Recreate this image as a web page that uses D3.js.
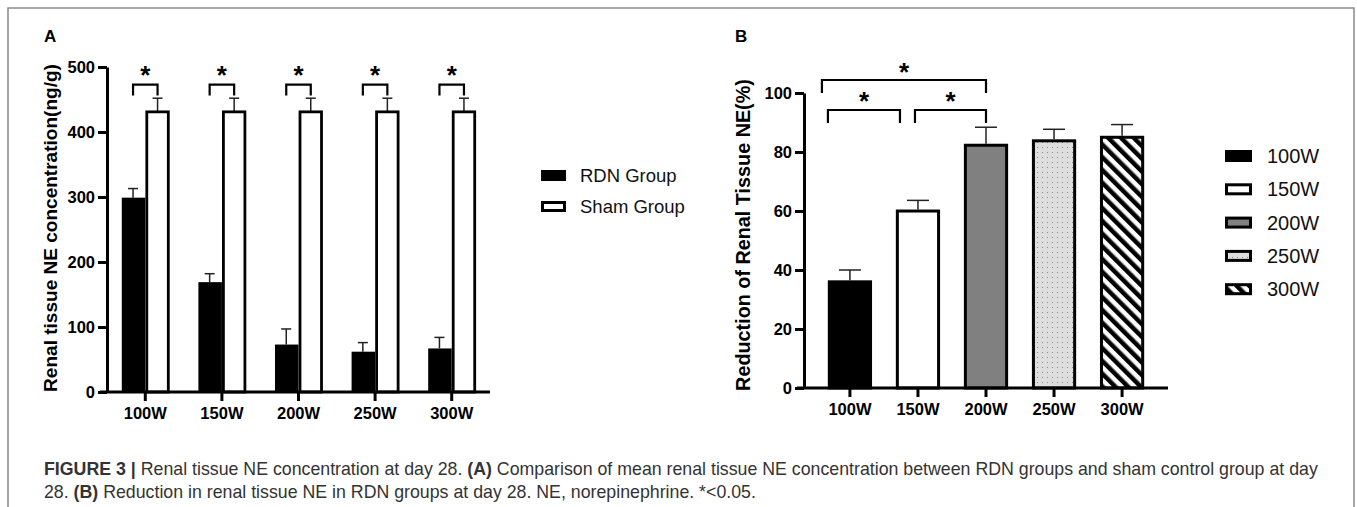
<!DOCTYPE html>
<html>
<head>
<meta charset="utf-8">
<script src="https://cdn.jsdelivr.net/npm/d3@7"></script>
<style>
  body { margin: 0; background: #fff; }
  text { font-family: "Liberation Sans", Arial, sans-serif; }
</style>
</head>
<body>
<div id="mainDiv"></div>
<script>
// data
var powers = ["100W", "150W", "200W", "250W", "300W"];
var groups = ["RDN Group", "Sham Group"];
var rdnMean = [299, 169, 73, 62, 67];
var rdnTop = [313, 182, 97, 76, 84];
var shamMean = [431, 431, 431, 431, 431];
var shamTop = [452, 452, 452, 452, 452];
var ticksA = [0, 100, 200, 300, 400, 500];

var reduction = [36.5, 60.5, 82.8, 84.3, 85.5];
var reductionTop = [40, 63.6, 88.4, 87.7, 89.3];
var ticksB = [0, 20, 40, 60, 80, 100];
var bracketsB = [["100W", "200W"], ["100W", "150W"], ["150W", "200W"]];

var captionLine1 = [["FIGURE 3 | ", true], ["Renal tissue NE concentration at day 28. ", false], ["(A)", true],
  [" Comparison of mean renal tissue NE concentration between RDN groups and sham control group at day", false]];
var captionLine2 = [["28. ", false], ["(B)", true], [" Reduction in renal tissue NE in RDN groups at day 28. NE, norepinephrine. *<0.05.", false]];

var mainDiv = d3.select("#mainDiv");
var mySvg = mainDiv.append("svg")
                   .attr("width", 1357)
                   .attr("height", 507);

// frame
mySvg.append("rect")
     .attr("x", 8).attr("y", 8)
     .attr("width", 1346).attr("height", 520)
     .attr("fill", "none")
     .attr("stroke", "#8a8a8a")
     .attr("stroke-width", 1.5);

var defs = mySvg.append("defs");
var dots = defs.append("pattern")
     .attr("id", "dots").attr("patternUnits", "userSpaceOnUse")
     .attr("width", 5).attr("height", 5);
dots.append("rect").attr("width", 5).attr("height", 5).attr("fill", "#dedede");
dots.append("rect").attr("x", 2).attr("y", 2).attr("width", 1).attr("height", 1).attr("fill", "#8c8c8c");

var stripes = defs.append("pattern")
     .attr("id", "stripes").attr("patternUnits", "userSpaceOnUse")
     .attr("width", 9).attr("height", 9)
     .attr("patternTransform", "rotate(-45)");
stripes.append("rect").attr("width", 9).attr("height", 9).attr("fill", "#fff");
stripes.append("rect").attr("width", 4.5).attr("height", 9).attr("fill", "#000");

var fillsB = ["#000", "#fff", "#808080", "url(#dots)", "url(#stripes)"];

// shrink/grow a text node's font so it spans a given width
function fitWidth(sel, w) {
    var fs = +sel.attr("font-size");
    sel.attr("font-size", fs * w / sel.node().getComputedTextLength());
}

// ---------- panel A ----------
var yA = d3.scaleLinear().domain([0, 500]).range([392, 67]);
var x0 = d3.scaleBand().domain(powers).range([107, 490]).paddingInner(0.36).paddingOuter(0.18);
var x1 = d3.scaleBand().domain(groups).range([0, x0.bandwidth()]);

var gA = mySvg.append("g");

powers.forEach(function(p, i) {
    var cx = x0(p);
    // error bars first so bars sit on top
    [[rdnMean[i], rdnTop[i], groups[0]], [shamMean[i], shamTop[i], groups[1]]].forEach(function(e) {
        var mx = cx + x1(e[2]) + x1.bandwidth() / 2;
        gA.append("line").attr("x1", mx).attr("x2", mx)
          .attr("y1", yA(e[0])).attr("y2", yA(e[1]))
          .attr("stroke", "#222").attr("stroke-width", 1.5);
        gA.append("line").attr("x1", mx - 5).attr("x2", mx + 5)
          .attr("y1", yA(e[1])).attr("y2", yA(e[1]))
          .attr("stroke", "#222").attr("stroke-width", 1.5);
    });
    gA.append("rect")
      .attr("x", cx + x1(groups[0]) + 1).attr("y", yA(rdnMean[i]))
      .attr("width", x1.bandwidth() - 1).attr("height", yA(0) - yA(rdnMean[i]))
      .attr("fill", "#000");
    gA.append("rect")
      .attr("x", cx + x1(groups[1]) + 1.5).attr("y", yA(shamMean[i]))
      .attr("width", x1.bandwidth() - 3).attr("height", yA(0) - yA(shamMean[i]))
      .attr("fill", "#fff").attr("stroke", "#000").attr("stroke-width", 2.8);

    // significance bracket
    var l = cx + x1(groups[0]) + x1.bandwidth() / 2;
    var r = cx + x1(groups[1]) + x1.bandwidth() / 2;
    gA.append("path")
      .attr("d", "M" + l + "," + yA(456) + "V" + yA(473) + "H" + r + "V" + yA(456))
      .attr("fill", "none").attr("stroke", "#000").attr("stroke-width", 2.2);
    gA.append("text").text("*")
      .attr("x", cx + x0.bandwidth() / 2).attr("y", 84)
      .attr("text-anchor", "middle")
      .attr("font-size", 26).attr("font-weight", "bold");
});

gA.append("g").attr("transform", "translate(107,0)")
   .call(d3.axisLeft(yA).tickValues(ticksA).tickSize(9).tickPadding(3).tickSizeOuter(0));
var xAxisA = gA.append("g").attr("transform", "translate(0," + yA(0) + ")")
   .call(d3.axisBottom(x0).tickSize(9).tickPadding(6).tickSizeOuter(0));
xAxisA.select(".domain").attr("d", "M100,0H490");

var titleA = gA.append("text")
  .text("Renal tissue NE concentration(ng/g)")
  .attr("transform", "translate(57,228) rotate(-90)")
  .attr("text-anchor", "middle")
  .attr("font-size", 17).attr("font-weight", "bold");
fitWidth(titleA, 328);

gA.append("text").text("A").attr("x", 44).attr("y", 42)
  .attr("font-size", 17).attr("font-weight", "bold");

// legend A
var legA = gA.append("g").attr("transform", "translate(541,170)");
groups.forEach(function(g, i) {
    legA.append("rect")
        .attr("x", 1.5).attr("y", i * 31 + 1.5)
        .attr("width", 22).attr("height", 8)
        .attr("fill", i == 0 ? "#000" : "#fff")
        .attr("stroke", "#000").attr("stroke-width", 3);
    legA.append("text").text(g)
        .attr("x", 39).attr("y", i * 31 + 12)
        .attr("font-size", 18.5).attr("fill", "#111");
});

// ---------- panel B ----------
var yB = d3.scaleLinear().domain([0, 100]).range([388, 93]);
var xB = d3.scaleBand().domain(powers).range([804, 1168]).paddingInner(0.35).paddingOuter(0.35);

var gB = mySvg.append("g");

powers.forEach(function(p, i) {
    var mx = xB(p) + xB.bandwidth() / 2;
    gB.append("line").attr("x1", mx).attr("x2", mx)
      .attr("y1", yB(reduction[i])).attr("y2", yB(reductionTop[i]))
      .attr("stroke", "#222").attr("stroke-width", 1.5);
    gB.append("line").attr("x1", mx - 11).attr("x2", mx + 11)
      .attr("y1", yB(reductionTop[i])).attr("y2", yB(reductionTop[i]))
      .attr("stroke", "#222").attr("stroke-width", 1.5);
    gB.append("rect")
      .attr("x", xB(p) + 1.5).attr("y", yB(reduction[i]) + 1.5)
      .attr("width", xB.bandwidth() - 3).attr("height", yB(0) - yB(reduction[i]) - 1.5)
      .attr("fill", fillsB[i])
      .attr("stroke", "#000").attr("stroke-width", 3);
});

// brackets B
function cB(p) { return xB(p) + xB.bandwidth() / 2; }
var bPos = [
    [cB(bracketsB[0][0]) - 28, cB(bracketsB[0][1]), 80, 93, 67],
    [cB(bracketsB[1][0]) - 22, cB(bracketsB[1][1]) - 18, 110, 123, 96],
    [cB(bracketsB[2][0]) - 3, cB(bracketsB[2][1]), 110, 123, 96]
];
bPos.forEach(function(b) {
    gB.append("path")
      .attr("d", "M" + b[0] + "," + b[3] + "V" + b[2] + "H" + b[1] + "V" + b[3])
      .attr("fill", "none").attr("stroke", "#000").attr("stroke-width", 2.2);
    gB.append("text").text("*")
      .attr("x", (b[0] + b[1]) / 2).attr("y", b[4] + 14)
      .attr("text-anchor", "middle")
      .attr("font-size", 26).attr("font-weight", "bold");
});

gB.append("g").attr("transform", "translate(804,0)")
  .call(d3.axisLeft(yB).tickValues(ticksB).tickSize(9).tickPadding(3).tickSizeOuter(0));
var xAxisB = gB.append("g").attr("transform", "translate(0," + yB(0) + ")")
  .call(d3.axisBottom(xB).tickSize(9).tickPadding(6).tickSizeOuter(0));
xAxisB.select(".domain").attr("d", "M797,0H1168");

var titleB = gB.append("text")
  .text("Reduction of Renal Tissue NE(%)")
  .attr("transform", "translate(750,235) rotate(-90)")
  .attr("text-anchor", "middle")
  .attr("font-size", 17).attr("font-weight", "bold");
fitWidth(titleB, 312);

gB.append("text").text("B").attr("x", 735).attr("y", 42)
  .attr("font-size", 17).attr("font-weight", "bold");

// legend B
var legB = gB.append("g").attr("transform", "translate(1225,150)");
powers.forEach(function(p, i) {
    legB.append("rect")
        .attr("x", 1.5).attr("y", i * 33.3 + 1.5)
        .attr("width", 24).attr("height", 9)
        .attr("fill", fillsB[i])
        .attr("stroke", "#000").attr("stroke-width", 3);
    legB.append("text").text(p)
        .attr("x", 42).attr("y", i * 33.3 + 13)
        .attr("font-size", 20).attr("fill", "#111");
});

// axis styling (Prism look)
mySvg.selectAll(".domain").attr("stroke", "#000").attr("stroke-width", 3);
mySvg.selectAll(".tick line").attr("stroke", "#000").attr("stroke-width", 3);
mySvg.selectAll(".tick text")
     .attr("font-size", 16.5).attr("font-weight", "bold")
     .attr("font-family", "Liberation Sans, Arial, sans-serif").attr("fill", "#000");

// caption
var cap = mySvg.append("g").attr("fill", "#333");
function captionLine(parts, y) {
    var t = cap.append("text").attr("x", 44).attr("y", y).attr("font-size", 16);
    parts.forEach(function(pt) {
        t.append("tspan").text(pt[0]).attr("font-weight", pt[1] ? "bold" : "normal");
    });
    return t;
}
var l1 = captionLine(captionLine1, 475);
var l2 = captionLine(captionLine2, 498);
fitWidth(l1, 1274);
l2.attr("font-size", l1.attr("font-size"));
</script>
</body>
</html>
